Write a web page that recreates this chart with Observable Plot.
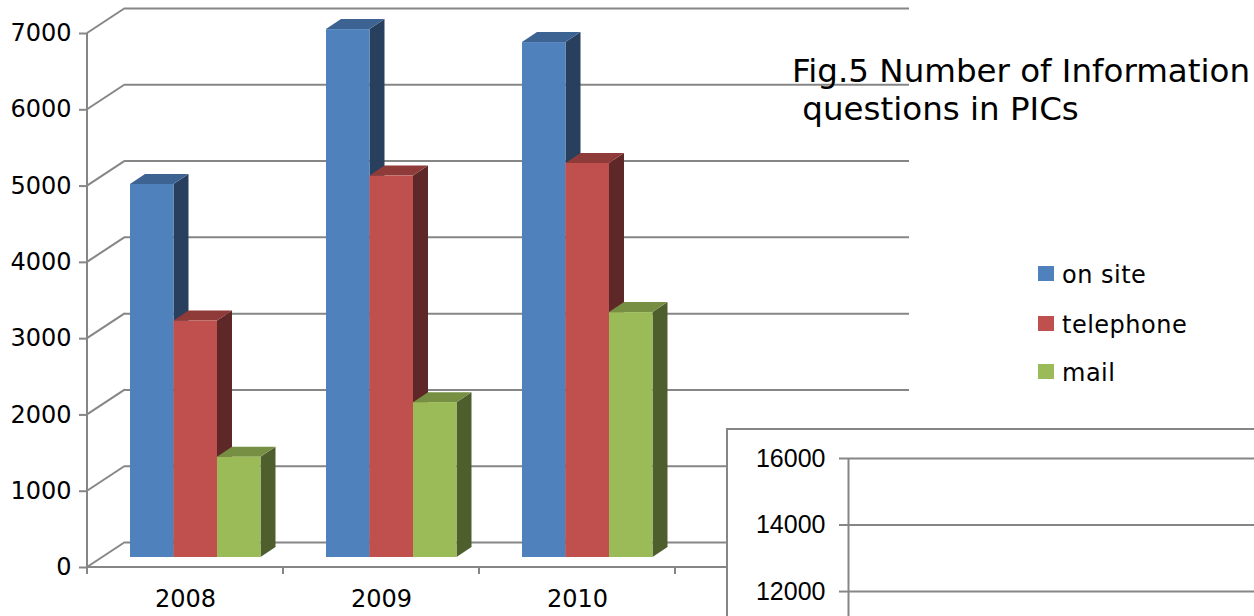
<!DOCTYPE html>
<html>
<head>
<meta charset="utf-8">
<script src="https://cdn.jsdelivr.net/npm/d3@7"></script>
<script src="https://cdn.jsdelivr.net/npm/@observablehq/plot@0.6"></script>
<style>
  html, body { margin: 0; padding: 0; background: #fff; overflow: hidden; }
  #wrap { position: relative; width: 1254px; height: 616px; overflow: hidden; background: #fff; }
  #main { position: absolute; left: 0; top: 0; }
  #inset { position: absolute; left: 726px; top: 428px; border-left: 2px solid #868686; border-top: 2px solid #868686; background: #fff; }
  #title { position: absolute; left: 792px; top: 52px; font-family: "DejaVu Sans"; font-size: 32.5px; line-height: 38px; white-space: pre; color: #000; }
  .sw { position: absolute; left: 1038px; width: 16px; height: 15px; }
  .lt { position: absolute; left: 1062px; font-family: "DejaVu Sans"; font-size: 24px; line-height: 28px; letter-spacing: 0.5px; white-space: pre; color: #000; }
</style>
</head>
<body>
<div id="wrap">
  <div id="main"></div>
  <div id="title"></div>
  <div id="legend"></div>
  <div id="inset"></div>
</div>
<script>
// ---------- data ----------
const years = ["2008", "2009", "2010", ""];          // 4th slot lies under the inset chart
const series = ["on site", "telephone", "mail"];
const onSite = [4890, 6920, 6750];
const telephone = [3100, 5000, 5165];
const mail = [1315, 2030, 3210];
const yTicks = [0, 1000, 2000, 3000, 4000, 5000, 6000, 7000];
const insetTicks = [12000, 14000, 16000];            // visible part of the second chart
const insetDomain = [11250, 16000];
const titleLines = ["Fig.5 Number of Information", " questions in PICs"];

// ---------- styles ----------
const frontColors = ["#4F81BD", "#C0504D", "#9BBB59"];
const sideColors = ["#283F5E", "#5F2828", "#4E5E2D"];
const topColors = ["#3C6391", "#8E3B39", "#768F42"];
const GRID = "#868686";

// ---------- layout ----------
const W = 1254, H = 616;
const ML = 87, MR = 383, MT = 33, MB = 49;
const STEP = (W - ML - MR) / years.length;
const WALL_DX = 38, WALL_DY = -25;
const BAR_DX = 15, BAR_DY = -10;
const PAD = 28, BW = 43.5;

const valuesBySeries = [onSite, telephone, mail];
const rows = [];
series.forEach((s, k) => {
  valuesBySeries[k].forEach((v, i) => rows.push({year: years[i], series: s, value: v, k}));
});

function walls(index, scales) {
  const x = scales.x, y = scales.y;
  const g = d3.create("svg:g").attr("stroke", GRID).attr("stroke-width", 2).attr("fill", "none");
  const x0 = x(years[0]);
  const xEnd = x(years[years.length - 1]) + STEP;
  for (const t of yTicks) {
    g.append("line").attr("x1", x0).attr("y1", y(t)).attr("x2", x0 + WALL_DX).attr("y2", y(t) + WALL_DY);
  }
  g.append("line").attr("x1", x0).attr("x2", x0).attr("y1", y(yTicks[0])).attr("y2", y(yTicks[yTicks.length - 1]));
  g.append("line").attr("x1", x0).attr("x2", xEnd).attr("y1", y(0)).attr("y2", y(0));
  const bounds = years.map(d => x(d)).concat([xEnd]);
  for (const b of bounds) {
    g.append("line").attr("x1", b).attr("x2", b).attr("y1", y(0)).attr("y2", y(0) + 7);
  }
  return g.node();
}

function barSidesTops(index, scales) {
  const x = scales.x, y = scales.y;
  const g = d3.create("svg:g");
  const geo = rows.map(r => {
    const x0 = x(r.year) + PAD + r.k * BW + BAR_DX;
    const x1 = x0 + BW;
    const yt = y(r.value) + BAR_DY;
    const yb = y(0) + BAR_DY;
    return {r, x0, x1, yt, yb};
  });
  for (const d of geo) {
    g.append("path")
      .attr("d", `M${d.x1},${d.yt}L${d.x1 + BAR_DX},${d.yt + BAR_DY}L${d.x1 + BAR_DX},${d.yb + BAR_DY}L${d.x1},${d.yb}Z`)
      .attr("fill", sideColors[d.r.k]);
  }
  for (const d of geo) {
    g.append("path")
      .attr("d", `M${d.x0},${d.yt}L${d.x1},${d.yt}L${d.x1 + BAR_DX},${d.yt + BAR_DY}L${d.x0 + BAR_DX},${d.yt + BAR_DY}Z`)
      .attr("fill", topColors[d.r.k]);
  }
  return g.node();
}

const fronts = series.map((s, k) => Plot.barY(rows.filter(r => r.k === k), {
  x: "year", y: "value", fill: frontColors[k],
  insetLeft: PAD + k * BW, insetRight: STEP - PAD - (k + 1) * BW,
  dx: BAR_DX, dy: BAR_DY
}));

const main = Plot.plot({
  width: W, height: H,
  marginLeft: ML, marginRight: MR, marginTop: MT, marginBottom: MB,
  style: {fontFamily: "'DejaVu Sans'", fontSize: "24px", color: "#000", background: "#fff", maxWidth: "none"},
  x: {type: "band", domain: years, padding: 0, label: null},
  y: {domain: [0, 7000], nice: false, label: null},
  marks: [
    Plot.ruleY(yTicks, {dx: WALL_DX, dy: WALL_DY, stroke: GRID, strokeWidth: 2}),
    walls,
    barSidesTops,
    ...fronts,
    Plot.axisY({ticks: yTicks, tickSize: 8, tickPadding: 8, stroke: GRID, strokeWidth: 2, fill: "#000",
      fontSize: 24, fontFamily: "DejaVu Sans", tickFormat: d => String(d), label: null}),
    Plot.axisX({tickSize: 0, tickPadding: 22, fill: "#000", fontSize: 24, fontFamily: "DejaVu Sans",
      tickFormat: d => d, label: null})
  ]
});
document.getElementById("main").appendChild(main);

// title
document.getElementById("title").textContent = titleLines.join("\n");

// legend
const legTops = [266, 316, 364];
const legTextTops = [261, 311, 359];
const legend = document.getElementById("legend");
series.forEach((s, k) => {
  const sw = document.createElement("div");
  sw.className = "sw"; sw.style.top = legTops[k] + "px"; sw.style.background = frontColors[k];
  legend.appendChild(sw);
  const t = document.createElement("div");
  t.className = "lt"; t.style.top = legTextTops[k] + "px"; t.textContent = s;
  legend.appendChild(t);
});

// inset chart (only its upper-left corner is visible)
const inset = Plot.plot({
  width: 526, height: 186,
  marginLeft: 120, marginRight: 0, marginTop: 28, marginBottom: 0,
  style: {fontFamily: "'Liberation Sans'", fontSize: "25px", color: "#000", background: "#fff", maxWidth: "none"},
  x: {domain: [0, 1], axis: null},
  y: {domain: insetDomain, nice: false, label: null},
  marks: [
    Plot.ruleY(insetTicks, {stroke: GRID, strokeWidth: 2}),
    Plot.ruleX([0], {y1: insetDomain[0], y2: insetDomain[1], stroke: GRID, strokeWidth: 2}),
    Plot.axisY({ticks: insetTicks, tickSize: 9, tickPadding: 14, stroke: GRID, strokeWidth: 2, fill: "#000",
      fontSize: 25, fontFamily: "Liberation Sans", tickFormat: d => String(d), label: null})
  ]
});
document.getElementById("inset").appendChild(inset);
</script>
</body>
</html>
